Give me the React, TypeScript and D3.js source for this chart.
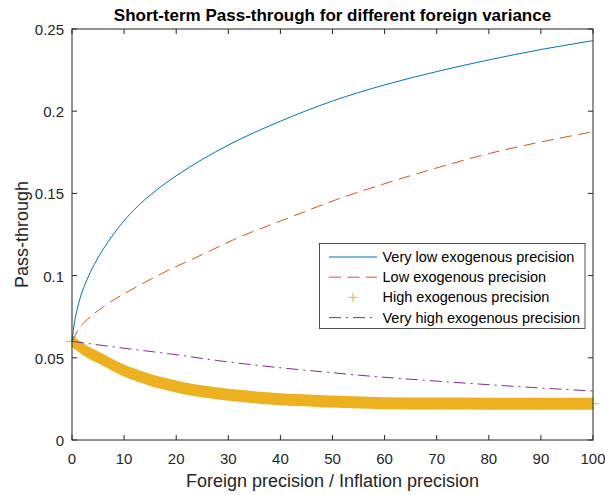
import React from "react";
import * as d3 from "d3";

// Pass-through curves for four exogenous-precision settings
const veryLowX = [0, 0.5, 1, 1.5, 2.5, 3.5, 5, 7, 9, 12, 16, 20, 25, 30, 40, 50, 60, 70, 80, 90, 100];
const veryLowY = [0.06, 0.072, 0.0795, 0.0857, 0.0947, 0.1019, 0.1109, 0.1209, 0.1295, 0.1403, 0.1515, 0.1607, 0.1707, 0.1794, 0.1939, 0.2062, 0.216, 0.2241, 0.2312, 0.2375, 0.2429];

const lowX = [0, 1.5, 3, 6, 12, 18, 25, 31, 42, 51, 61, 70, 80, 90, 100];
const lowY = [0.06, 0.0685, 0.0735, 0.081, 0.0925, 0.1025, 0.1128, 0.1218, 0.1356, 0.1465, 0.1569, 0.1655, 0.1742, 0.1813, 0.1875];

const highX = [0, 2, 4, 6, 9, 12.5, 15, 19, 23, 28, 33, 38, 43, 48, 54, 60, 70, 80, 90, 100];
const highY = [0.06, 0.0555, 0.0518, 0.0487, 0.0437, 0.0392, 0.0365, 0.0333, 0.0305, 0.0283, 0.0266, 0.0253, 0.0243, 0.0236, 0.0229, 0.0224, 0.0222, 0.0221, 0.0221, 0.0221];

const veryHighX = [0, 10, 19, 28, 38, 48, 57, 67, 76, 88, 100];
const veryHighY = [0.06, 0.0558, 0.0523, 0.0483, 0.0446, 0.0415, 0.0389, 0.0365, 0.0345, 0.032, 0.0298];

const xTicks = [0, 10, 20, 30, 40, 50, 60, 70, 80, 90, 100];
const yTicks = [0, 0.05, 0.1, 0.15, 0.2, 0.25];

const legendLabels = [
  "Very low exogenous precision",
  "Low exogenous precision",
  "High exogenous precision",
  "Very high exogenous precision",
];

const BLUE = "#0072BD";
const RED = "#D95319";
const YELLOW = "#EDB120";
const PURPLE = "#7E2F8E";
const AXIS = "#262626";
const FONT = "'Liberation Sans', Arial, Helvetica, sans-serif";

type Pt = [number, number];
const zip = (xs: number[], ys: number[]): Pt[] => xs.map((x, i) => [x, ys[i]]);

export default function App() {
  const W = 605;
  const H = 495;
  const left = 72;
  const right = 593;
  const top = 29;
  const bottom = 440;

  const x = d3.scaleLinear().domain([0, 100]).range([left, right]);
  const y = d3.scaleLinear().domain([0, 0.25]).range([bottom, top]);

  const line = d3
    .line<Pt>()
    .x((d) => x(d[0]))
    .y((d) => y(d[1]))
    .curve(d3.curveMonotoneX);

  // the dense "+" markers merge into a band one marker tall
  const markerHalf = 6;
  const band = d3
    .area<Pt>()
    .x((d) => x(d[0]))
    .y0((d) => y(d[1]) - markerHalf)
    .y1((d) => y(d[1]) + markerHalf)
    .curve(d3.curveMonotoneX);

  const veryLow = zip(veryLowX, veryLowY);
  const low = zip(lowX, lowY);
  const high = zip(highX, highY);
  const veryHigh = zip(veryHighX, veryHighY);

  const tickLen = 5;

  // legend geometry
  const lgX = 319.5;
  const lgY = 243.5;
  const lgW = 265.5;
  const lgH = 85;
  const rowY = (i: number) => lgY + 13.5 + i * 20.2;
  const sampleX0 = 329;
  const sampleX1 = 377;
  const textX = 382.5;

  const plus = (cx: number, cy: number, h: number, key: string | number, sw = 1) => (
    <g key={key} stroke={YELLOW} strokeWidth={sw}>
      <line x1={cx - h} x2={cx + h} y1={cy} y2={cy} />
      <line x1={cx} x2={cx} y1={cy - h} y2={cy + h} />
    </g>
  );

  return (
    <svg
      width={W}
      height={H}
      style={{ position: "absolute", left: 0, top: 0, background: "#fff" }}
      fontFamily={FONT}
    >
      <rect x={0} y={0} width={W} height={H} fill="#fff" />

      {/* series */}
      <path d={band(high) || ""} fill={YELLOW} />
      {high.map((d, i) => plus(x(d[0]), y(d[1]), markerHalf, `h${i}`))}
      <path
        d={line(veryHigh) || ""}
        fill="none"
        stroke={PURPLE}
        strokeWidth={1}
        strokeDasharray="12,5,2,5"
      />
      <path d={line(low) || ""} fill="none" stroke={RED} strokeWidth={1} strokeDasharray="12,6.5" />
      <path d={line(veryLow) || ""} fill="none" stroke={BLUE} strokeWidth={1} />

      {/* axes box */}
      <rect
        x={left}
        y={top}
        width={right - left}
        height={bottom - top}
        fill="none"
        stroke={AXIS}
        strokeWidth={1}
      />
      {xTicks.map((t) => (
        <g key={`xt${t}`} stroke={AXIS} strokeWidth={1}>
          <line x1={x(t)} x2={x(t)} y1={bottom} y2={bottom - tickLen} />
          <line x1={x(t)} x2={x(t)} y1={top} y2={top + tickLen} />
        </g>
      ))}
      {yTicks.map((t) => (
        <g key={`yt${t}`} stroke={AXIS} strokeWidth={1}>
          <line x1={left} x2={left + tickLen} y1={y(t)} y2={y(t)} />
          <line x1={right} x2={right - tickLen} y1={y(t)} y2={y(t)} />
        </g>
      ))}
      {xTicks.map((t) => (
        <text
          key={`xl${t}`}
          x={x(t)}
          y={bottom + 24}
          textAnchor="middle"
          fontSize={15}
          fill={AXIS}
        >
          {t}
        </text>
      ))}
      {yTicks.map((t) => (
        <text
          key={`yl${t}`}
          x={left - 8}
          y={y(t) + 6}
          textAnchor="end"
          fontSize={15}
          fill={AXIS}
        >
          {t === 0 ? "0" : String(t)}
        </text>
      ))}

      {/* labels */}
      <text
        x={(left + right) / 2}
        y={21}
        textAnchor="middle"
        fontSize={17}
        fontWeight="bold"
        fill="#000"
      >
        Short-term Pass-through for different foreign variance
      </text>
      <text x={(left + right) / 2} y={487} textAnchor="middle" fontSize={18} fill={AXIS}>
        Foreign precision / Inflation precision
      </text>
      <text
        transform={`translate(28, ${(top + bottom) / 2}) rotate(-90)`}
        textAnchor="middle"
        fontSize={18}
        fill={AXIS}
      >
        Pass-through
      </text>

      {/* legend */}
      <rect x={lgX} y={lgY} width={lgW} height={lgH} fill="#fff" stroke={AXIS} strokeWidth={0.8} />
      <line x1={sampleX0} x2={sampleX1} y1={rowY(0)} y2={rowY(0)} stroke={BLUE} strokeWidth={1} />
      <line
        x1={sampleX0}
        x2={sampleX1}
        y1={rowY(1)}
        y2={rowY(1)}
        stroke={RED}
        strokeWidth={1}
        strokeDasharray="12,6.5"
      />
      {plus((sampleX0 + sampleX1) / 2, rowY(2), 4.5, "lgplus")}
      <line
        x1={sampleX0}
        x2={sampleX1}
        y1={rowY(3)}
        y2={rowY(3)}
        stroke={PURPLE}
        strokeWidth={1}
        strokeDasharray="12,5,2,5"
      />
      {legendLabels.map((s, i) => (
        <text key={s} x={textX} y={rowY(i) + 5} fontSize={14.5} fill="#000">
          {s}
        </text>
      ))}
    </svg>
  );
}
